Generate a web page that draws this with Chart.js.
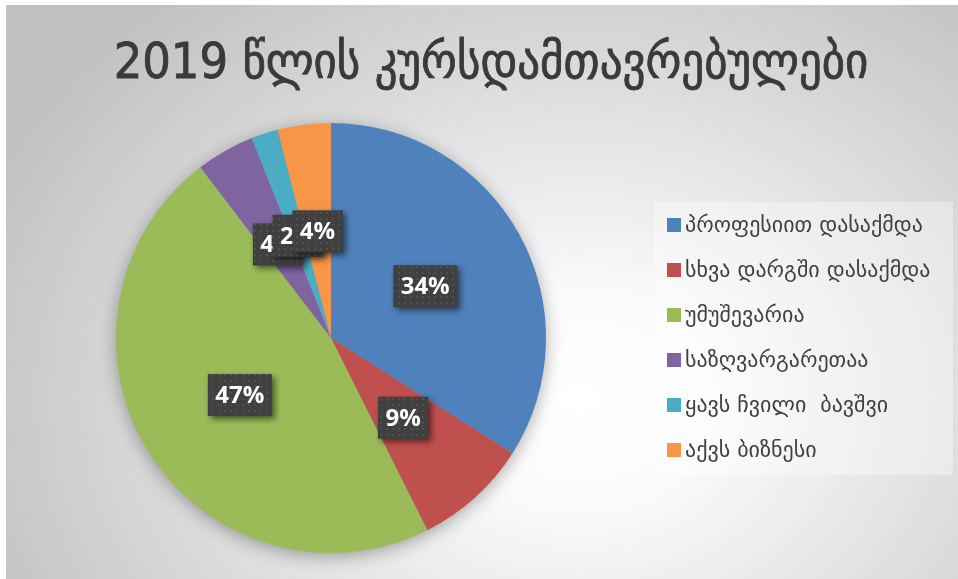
<!DOCTYPE html>
<html>
<head>
<meta charset="utf-8">
<script src="https://cdn.jsdelivr.net/npm/chart.js@4.4.1/dist/chart.umd.min.js"></script>
<style>
  html, body { margin: 0; padding: 0; background: #fff; }
  #wrap { position: relative; width: 958px; height: 579px; }
</style>
</head>
<body>
<div id="wrap"><canvas id="gradChart"></canvas></div>
<script>
const titleText = '2019 წლის კურსდამთავრებულები';
const categories = [
    'პროფესიით დასაქმდა',
    'სხვა დარგში დასაქმდა',
    'უმუშევარია',
    'საზღვარგარეთაა',
    'ყავს ჩვილი  ბავშვი',
    'აქვს ბიზნესი'
];
const shares = [34, 8.6, 47, 4.4, 2, 4];
const sliceColors = ['#4f81bd', '#c0504d', '#9bbb59', '#8064a2', '#4bacc6', '#f79646'];

const GEO_FONT = '"DejaVu Sans", sans-serif';

// dotted fill for the label boxes
const dots = document.createElement('canvas');
dots.width = dots.height = 6;
const dctx = dots.getContext('2d');
dctx.fillStyle = '#404040';
dctx.fillRect(0, 0, 6, 6);
dctx.fillStyle = '#505050';
dctx.fillRect(2, 2, 2, 2);

const decor = {
    id: 'decor',
    beforeDraw(chart) {
        const { ctx, width, height } = chart;
        ctx.save();
        ctx.fillStyle = '#ffffff';
        ctx.fillRect(0, 0, width, height);
        ctx.beginPath();
        ctx.rect(6, 5, width - 6, height - 5);
        ctx.clip();
        ctx.translate(580, 400);
        ctx.scale(1, 0.8);
        const g = ctx.createRadialGradient(0, 0, 0, 0, 0, 640);
        g.addColorStop(0, '#ffffff');
        g.addColorStop(0.2, '#fbfbfb');
        g.addColorStop(1, '#c2c2c2');
        ctx.fillStyle = g;
        ctx.fillRect(-1000, -1000, 2000, 2000);
        ctx.restore();

        // title
        ctx.save();
        ctx.fillStyle = '#3a3a3a';
        ctx.font = '50px "DejaVu Sans Condensed", "DejaVu Sans", sans-serif';
        ctx.textAlign = 'center';
        ctx.textBaseline = 'alphabetic';
        ctx.fillText(titleText, 491, 78);
        ctx.lineWidth = 0.8;
        ctx.strokeStyle = '#3a3a3a';
        ctx.strokeText(titleText, 491, 78);
        ctx.restore();

        // legend
        ctx.save();
        ctx.fillStyle = 'rgba(255,255,255,0.35)';
        ctx.fillRect(654, 202, 299, 273);
        ctx.font = '22px ' + GEO_FONT;
        ctx.textBaseline = 'middle';
        categories.forEach((name, i) => {
            const y = 225 + i * 45;
            ctx.fillStyle = sliceColors[i];
            ctx.fillRect(667, y - 7, 14, 14);
            ctx.fillStyle = '#404040';
            ctx.fillText(name, 685, y + 1);
        });
        ctx.restore();
    },
    beforeDatasetsDraw(chart) {
        const arc = chart.getDatasetMeta(0).data[0];
        if (!arc) return;
        const { ctx } = chart;
        ctx.save();
        ctx.shadowColor = 'rgba(0,0,0,0.35)';
        ctx.shadowBlur = 18;
        ctx.shadowOffsetY = 4;
        ctx.fillStyle = '#999';
        ctx.beginPath();
        ctx.arc(arc.x, arc.y, arc.outerRadius - 1, 0, Math.PI * 2);
        ctx.fill();
        ctx.restore();
    },
    afterDatasetsDraw(chart) {
        const { ctx } = chart;
        const total = shares.reduce((a, b) => a + b, 0);
        const pattern = ctx.createPattern(dots, 'repeat');
        ctx.save();
        ctx.font = 'bold 24px "Open Sans", sans-serif';
        ctx.textAlign = 'center';
        ctx.textBaseline = 'middle';
        chart.getDatasetMeta(0).data.forEach((arc, i) => {
            const { x, y } = arc.getCenterPoint();
            const text = Math.round(shares[i] / total * 100) + '%';
            const w = ctx.measureText(text).width + 15;
            const h = 42;
            ctx.save();
            ctx.shadowColor = 'rgba(0,0,0,0.55)';
            ctx.shadowBlur = 6;
            ctx.shadowOffsetX = 3;
            ctx.shadowOffsetY = 3;
            ctx.fillStyle = pattern;
            ctx.fillRect(x - w / 2, y - h / 2, w, h);
            ctx.restore();
            ctx.fillStyle = '#ffffff';
            ctx.fillText(text, x, y + 1);
        });
        ctx.restore();
    }
};

new Chart(document.getElementById('gradChart'), {
    type: 'pie',
    data: {
        labels: categories,
        datasets: [{
            data: shares,
            backgroundColor: sliceColors,
            borderWidth: 0
        }]
    },
    options: {
        responsive: true,
        maintainAspectRatio: false,
        animation: false,
        layout: {
            padding: { top: 123, bottom: 26, left: 116, right: 412 }
        },
        plugins: {
            legend: { display: false },
            title: { display: false },
            tooltip: { enabled: false }
        }
    },
    plugins: [decor]
});
</script>
</body>
</html>
